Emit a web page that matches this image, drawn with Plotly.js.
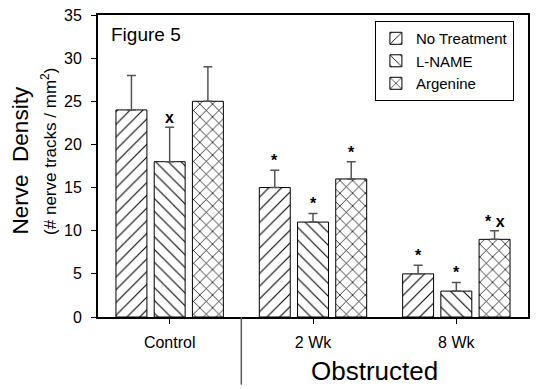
<!DOCTYPE html>
<html>
<head>
<meta charset="utf-8">
<script src="https://cdn.plot.ly/plotly-3.0.1.min.js"></script>
<style>html,body{margin:0;padding:0;background:#fff;}#chart{width:549px;height:389px;}</style>
</head>
<body>
<div id="chart"></div>
<script>
// ---- data ----
var groups = ['Control', '2 Wk', '8 Wk'];
var seriesNames = ['No Treatment', 'L-NAME', 'Argenine'];
var noTreatment = [24, 15, 5];
var lName = [18, 11, 3];
var argenine = [25, 16, 9];
var noTreatmentErr = [4, 2, 1];
var lNameErr = [4, 1, 1];
var argenineErr = [4, 2, 1];
var noTreatmentMarks = ['', '*', '*'];
var lNameMarks = ['x', '*', '*'];
var argenineMarks = ['', '*', '* x'];
var yTicks = [0, 5, 10, 15, 20, 25, 30, 35];

// ---- styling ----
var FONT = 'Liberation Sans, Arial, Helvetica, sans-serif';
var bargap = 0.2, bargroupgap = 0.19;
var shapes = ['/', '\\', 'x'];
var solid = [0.12, 0.12, 0.16];
var values = [noTreatment, lName, argenine];
var errs = [noTreatmentErr, lNameErr, argenineErr];
var marks = [noTreatmentMarks, lNameMarks, argenineMarks];
var xIdx = groups.map(function(_, i){ return i; });

var traces = values.map(function(v, s){
  return {
    type: 'bar', name: seriesNames[s], x: xIdx, y: v,
    marker: {color: '#ffffff', line: {color: '#000', width: 1},
      pattern: {shape: shapes[s], fgcolor: '#000', bgcolor: '#fff', size: 9, solidity: solid[s], fillmode: 'replace'}},
    error_y: {type: 'data', symmetric: false, array: errs[s], arrayminus: v.map(function(){return 0;}),
      color: '#555', thickness: 1.5, width: 4.5},
    hoverinfo: 'skip'
  };
});

var slot = (1 - bargap) / seriesNames.length;
var annotations = [];
marks.forEach(function(m, s){
  m.forEach(function(t, g){
    if (!t) return;
    annotations.push({
      xref: 'x', yref: 'y', x: g + (s - 1) * slot, y: values[s][g] + errs[s][g],
      text: '<b>' + t + '</b>', showarrow: false, yanchor: 'bottom', yshift: -1,
      font: {family: FONT, size: 16, color: '#000'}
    });
  });
});
annotations.push({xref: 'paper', yref: 'paper', x: 0.026, y: 0.934, xanchor: 'left', yanchor: 'middle',
  text: 'Figure 5', showarrow: false, font: {family: FONT, size: 19, color: '#000'}});
annotations.push({xref: 'x', yref: 'paper', x: 1.43, y: -0.18, xanchor: 'center', yanchor: 'middle',
  text: 'Obstructed', showarrow: false, font: {family: FONT, size: 26, color: '#000'}});
annotations.push({xref: 'paper', yref: 'paper', x: -0.178, y: 0.52, xanchor: 'center', yanchor: 'middle',
  textangle: -90, text: 'Nerve\u00a0 Density', showarrow: false, font: {family: FONT, size: 22.5, color: '#000'}});
annotations.push({xref: 'paper', yref: 'paper', x: -0.114, y: 0.55, xanchor: 'center', yanchor: 'middle',
  textangle: -90, text: '(# nerve tracks / mm<sup>2</sup>)', showarrow: false, font: {family: FONT, size: 17, color: '#000'}});

var layout = {
  width: 549, height: 389,
  margin: {l: 98, r: 21, t: 15, b: 72, pad: 0},
  paper_bgcolor: '#fff', plot_bgcolor: '#fff',
  barmode: 'group', bargap: bargap, bargroupgap: bargroupgap,
  font: {family: FONT, color: '#000'},
  showlegend: true,
  legend: {x: 0.644, y: 0.98, xanchor: 'left', yanchor: 'top', bgcolor: '#fff',
    bordercolor: '#000', borderwidth: 1, font: {family: FONT, size: 15, color: '#000'},
    tracegroupgap: 0, itemwidth: 30},
  xaxis: {range: [-0.5, 2.5], tickmode: 'array', tickvals: xIdx, ticktext: groups,
    showgrid: false, zeroline: false, showline: true, linecolor: '#000', linewidth: 2, mirror: true,
    ticks: 'outside', ticklen: 5, tickwidth: 1, tickcolor: '#000', ticklabelstandoff: 5,
    tickfont: {family: FONT, size: 16, color: '#000'}, fixedrange: true},
  yaxis: {range: [0, 35], tickmode: 'array', tickvals: yTicks,
    showgrid: false, zeroline: false, showline: true, linecolor: '#000', linewidth: 2, mirror: true,
    ticks: 'outside', ticklen: 5, tickwidth: 1, tickcolor: '#000', ticklabelstandoff: 6,
    tickfont: {family: FONT, size: 16, color: '#000'}, fixedrange: true},
  shapes: [{type: 'line', xref: 'x', yref: 'paper', x0: 0.5, x1: 0.5, y0: 0, y1: -0.224,
    line: {color: '#555', width: 1.5}}],
  annotations: annotations
};

Plotly.newPlot('chart', traces, layout, {displayModeBar: false, staticPlot: true});
</script>
</body>
</html>
